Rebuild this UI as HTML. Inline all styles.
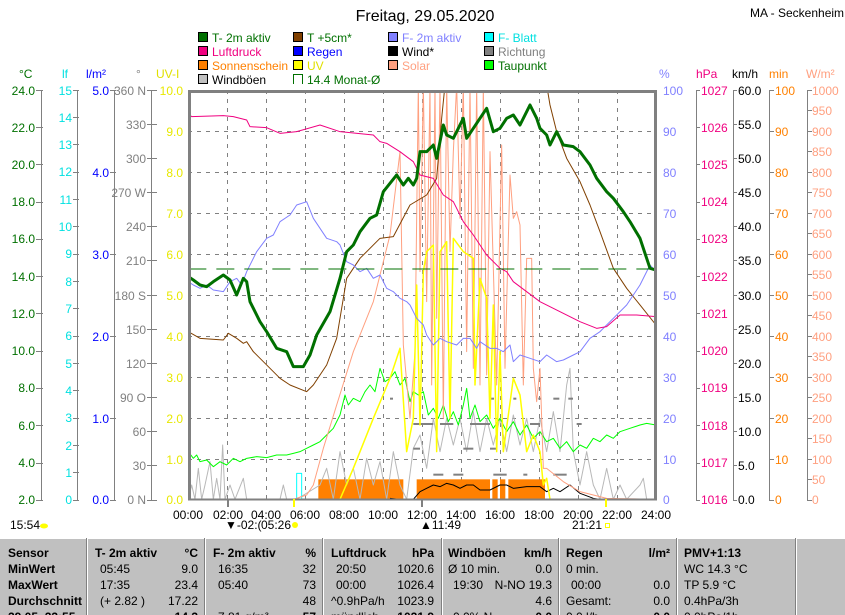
<!DOCTYPE html>
<html><head><meta charset="utf-8"><style>
html,body{margin:0;padding:0;background:#fff}
svg{display:block;font-family:"Liberation Sans",sans-serif;font-size:12px}
</style></head><body>
<svg width="845" height="615" viewBox="0 0 845 615" xmlns="http://www.w3.org/2000/svg">
<rect width="845" height="615" fill="#fff"/>
<text x="425" y="21" font-size="16" text-anchor="middle">Freitag, 29.05.2020</text>
<text x="750" y="17" font-size="12">MA - Seckenheim</text>
<!-- legend -->
<g font-size="12">
<rect x="198.5" y="32.5" width="9" height="9" fill="#007000" stroke="#000"/><text x="212" y="42" fill="#007000">T- 2m aktiv</text>
<rect x="293.5" y="32.5" width="9" height="9" fill="#804000" stroke="#000"/><text x="307" y="42" fill="#007000">T +5cm*</text>
<rect x="388.5" y="32.5" width="9" height="9" fill="#8080ff" stroke="#000"/><text x="402" y="42" fill="#8080ff">F- 2m aktiv</text>
<rect x="484.5" y="32.5" width="9" height="9" fill="#00ffff" stroke="#000"/><text x="498" y="42" fill="#00e0e0">F- Blatt</text>
<rect x="198.5" y="46.5" width="9" height="9" fill="#f00080" stroke="#000"/><text x="212" y="56" fill="#f00080">Luftdruck</text>
<rect x="293.5" y="46.5" width="9" height="9" fill="#0000ff" stroke="#000"/><text x="307" y="56" fill="#0000ff">Regen</text>
<rect x="388.5" y="46.5" width="9" height="9" fill="#000" stroke="#000"/><text x="402" y="56" fill="#000">Wind*</text>
<rect x="484.5" y="46.5" width="9" height="9" fill="#808080" stroke="#000"/><text x="498" y="56" fill="#808080">Richtung</text>
<rect x="198.5" y="60.5" width="9" height="9" fill="#ff8000" stroke="#000"/><text x="212" y="70" fill="#ff8000">Sonnenschein</text>
<rect x="293.5" y="60.5" width="9" height="9" fill="#ffff00" stroke="#000"/><text x="307" y="70" fill="#e0e000">UV</text>
<rect x="388.5" y="60.5" width="9" height="9" fill="#ffa080" stroke="#000"/><text x="402" y="70" fill="#ffa080">Solar</text>
<rect x="484.5" y="60.5" width="9" height="9" fill="#00ff00" stroke="#000"/><text x="498" y="70" fill="#007000">Taupunkt</text>
<rect x="198.5" y="74.5" width="9" height="9" fill="#c0c0c0" stroke="#000"/><text x="212" y="84" fill="#000">Windböen</text>
<path d="M293.5 84 V74.5 H302.5 V84" fill="none" stroke="#007000"/><text x="307" y="84" fill="#007000">14.4 Monat-Ø</text>
</g>
<!-- units -->
<g font-size="12">
<text x="19" y="78" fill="#007000">°C</text>
<text x="62" y="78" fill="#00e0e0">lf</text>
<text x="86" y="78" fill="#0000ff">l/m²</text>
<text x="136" y="78" fill="#808080">°</text>
<text x="156" y="78" fill="#e0e000">UV-I</text>
<text x="659" y="78" fill="#8080ff">%</text>
<text x="696" y="78" fill="#f00080">hPa</text>
<text x="732" y="78" fill="#000">km/h</text>
<text x="769" y="78" fill="#ff8000">min</text>
<text x="806" y="78" fill="#ffa080">W/m²</text>
</g>
<!-- axis lines -->
<g stroke="#808080" stroke-width="1">
<line x1="41.5" y1="90" x2="41.5" y2="500"/>
<line x1="77.5" y1="90" x2="77.5" y2="500"/>
<line x1="114.5" y1="90" x2="114.5" y2="500"/>
<line x1="151.5" y1="90" x2="151.5" y2="500"/>
<line x1="696.5" y1="90" x2="696.5" y2="500"/>
<line x1="733.5" y1="90" x2="733.5" y2="500"/>
<line x1="769.5" y1="90" x2="769.5" y2="500"/>
<line x1="807.5" y1="90" x2="807.5" y2="500"/>
</g>
<!-- left labels -->
<g fill="#007000" text-anchor="end">
<text x="35" y="95">24.0</text><text x="35" y="132">22.0</text><text x="35" y="169">20.0</text><text x="35" y="206">18.0</text><text x="35" y="243">16.0</text><text x="35" y="281">14.0</text><text x="35" y="318">12.0</text><text x="35" y="355">10.0</text><text x="35" y="392">8.0</text><text x="35" y="430">6.0</text><text x="35" y="467">4.0</text><text x="35" y="504">2.0</text>
</g>
<path stroke="#808080" d="M36 90.5h7M36 127.5h7M36 164.5h7M36 202.5h7M36 239.5h7M36 276.5h7M36 313.5h7M36 351.5h7M36 388.5h7M36 425.5h7M36 463.5h7M36 500.5h7"/>
<g fill="#00e0e0" text-anchor="end">
<text x="72" y="95">15</text><text x="72" y="122">14</text><text x="72" y="149">13</text><text x="72" y="176">12</text><text x="72" y="204">11</text><text x="72" y="231">10</text><text x="72" y="258">9</text><text x="72" y="286">8</text><text x="72" y="313">7</text><text x="72" y="340">6</text><text x="72" y="368">5</text><text x="72" y="395">4</text><text x="72" y="422">3</text><text x="72" y="450">2</text><text x="72" y="477">1</text><text x="72" y="504">0</text>
</g>
<path stroke="#808080" d="M73 90.5h6M73 117.5h6M73 144.5h6M73 172.5h6M73 199.5h6M73 226.5h6M73 254.5h6M73 281.5h6M73 308.5h6M73 336.5h6M73 363.5h6M73 390.5h6M73 418.5h6M73 445.5h6M73 472.5h6M73 500.5h6"/>
<g fill="#0000ff" text-anchor="end">
<text x="109" y="95">5.0</text><text x="109" y="177">4.0</text><text x="109" y="259">3.0</text><text x="109" y="341">2.0</text><text x="109" y="423">1.0</text><text x="109" y="504">0.0</text>
</g>
<path stroke="#808080" d="M110 90.5h6M110 172.5h6M110 254.5h6M110 336.5h6M110 418.5h6M110 500.5h6"/>
<g fill="#808080" text-anchor="end">
<text x="146" y="95">360 N</text><text x="146" y="129">330</text><text x="146" y="163">300</text><text x="146" y="197">270 W</text><text x="146" y="231">240</text><text x="146" y="265">210</text><text x="146" y="300">180 S</text><text x="146" y="334">150</text><text x="146" y="368">120</text><text x="146" y="402">90 O</text><text x="146" y="436">60</text><text x="146" y="470">30</text><text x="146" y="504">0 N</text>
</g>
<path stroke="#808080" d="M147 90.5h10M147 124.5h10M147 158.5h10M147 192.5h10M147 226.5h10M147 260.5h10M147 295.5h10M147 329.5h10M147 363.5h10M147 397.5h10M147 431.5h10M147 465.5h10M147 500.5h10"/>
<g fill="#e8e800" text-anchor="end">
<text x="183" y="95">10.0</text><text x="183" y="136">9.0</text><text x="183" y="177">8.0</text><text x="183" y="218">7.0</text><text x="183" y="259">6.0</text><text x="183" y="300">5.0</text><text x="183" y="341">4.0</text><text x="183" y="382">3.0</text><text x="183" y="423">2.0</text><text x="183" y="464">1.0</text><text x="183" y="504">0.0</text>
</g>
<!-- right labels -->
<g fill="#8080ff">
<text x="663" y="95">100</text><text x="663" y="136">90</text><text x="663" y="177">80</text><text x="663" y="218">70</text><text x="663" y="259">60</text><text x="663" y="300">50</text><text x="663" y="341">40</text><text x="663" y="382">30</text><text x="663" y="423">20</text><text x="663" y="464">10</text><text x="663" y="504">0</text>
</g>
<g fill="#f00080">
<text x="701" y="95">1027</text><text x="701" y="132">1026</text><text x="701" y="169">1025</text><text x="701" y="206">1024</text><text x="701" y="243">1023</text><text x="701" y="281">1022</text><text x="701" y="318">1021</text><text x="701" y="355">1020</text><text x="701" y="392">1019</text><text x="701" y="430">1018</text><text x="701" y="467">1017</text><text x="701" y="504">1016</text>
</g>
<path stroke="#808080" d="M696 90.5h4M696 127.5h4M696 164.5h4M696 202.5h4M696 239.5h4M696 276.5h4M696 313.5h4M696 351.5h4M696 388.5h4M696 425.5h4M696 463.5h4M696 500.5h4"/>
<g fill="#000">
<text x="738" y="95">60.0</text><text x="738" y="129">55.0</text><text x="738" y="163">50.0</text><text x="738" y="197">45.0</text><text x="738" y="231">40.0</text><text x="738" y="265">35.0</text><text x="738" y="300">30.0</text><text x="738" y="334">25.0</text><text x="738" y="368">20.0</text><text x="738" y="402">15.0</text><text x="738" y="436">10.0</text><text x="738" y="470">5.0</text><text x="738" y="504">0.0</text>
</g>
<path stroke="#808080" d="M733 90.5h4M733 124.5h4M733 158.5h4M733 192.5h4M733 226.5h4M733 260.5h4M733 295.5h4M733 329.5h4M733 363.5h4M733 397.5h4M733 431.5h4M733 465.5h4M733 500.5h4"/>
<g fill="#ff8000">
<text x="775" y="95">100</text><text x="775" y="136">90</text><text x="775" y="177">80</text><text x="775" y="218">70</text><text x="775" y="259">60</text><text x="775" y="300">50</text><text x="775" y="341">40</text><text x="775" y="382">30</text><text x="775" y="423">20</text><text x="775" y="464">10</text><text x="775" y="504">0</text>
</g>
<path stroke="#808080" d="M769 90.5h5M769 131.5h5M769 172.5h5M769 213.5h5M769 254.5h5M769 295.5h5M769 336.5h5M769 377.5h5M769 418.5h5M769 459.5h5M769 500.5h5"/>
<g fill="#ffa080">
<text x="812" y="95">1000</text><text x="812" y="115">950</text><text x="812" y="136">900</text><text x="812" y="156">850</text><text x="812" y="177">800</text><text x="812" y="197">750</text><text x="812" y="218">700</text><text x="812" y="238">650</text><text x="812" y="259">600</text><text x="812" y="279">550</text><text x="812" y="300">500</text><text x="812" y="320">450</text><text x="812" y="341">400</text><text x="812" y="361">350</text><text x="812" y="382">300</text><text x="812" y="402">250</text><text x="812" y="423">200</text><text x="812" y="443">150</text><text x="812" y="464">100</text><text x="812" y="484">50</text><text x="812" y="504">0</text>
</g>
<path stroke="#808080" d="M807 90.5h5M807 110.5h5M807 131.5h5M807 151.5h5M807 172.5h5M807 192.5h5M807 213.5h5M807 233.5h5M807 254.5h5M807 274.5h5M807 295.5h5M807 315.5h5M807 336.5h5M807 356.5h5M807 377.5h5M807 397.5h5M807 418.5h5M807 438.5h5M807 459.5h5M807 479.5h5M807 500.5h5"/>
<!-- grid -->
<g stroke="#808080" stroke-dasharray="4,5" stroke-width="1">
<path d="M227.5 90V499M266.5 90V499M305.5 90V499M344.5 90V499M383.5 90V499M422.5 90V499M461.5 90V499M500.5 90V499M539.5 90V499M578.5 90V499M617.5 90V499"/>
<path d="M188 131.5H656M188 172.5H656M188 213.5H656M188 254.5H656M188 295.5H656M188 336.5H656M188 377.5H656M188 418.5H656M188 459.5H656"/>
</g>
<defs><clipPath id="c"><rect x="189" y="91" width="467" height="408"/></clipPath></defs>
<g clip-path="url(#c)">
<g transform="translate(180,85) scale(0.33333)" fill="none" stroke-linejoin="round">
<!-- sunshine -->
<g fill="#ff8000" stroke="none">
<rect x="415" y="1183" width="255" height="60"/>
<rect x="710" y="1183" width="220" height="60"/>
<rect x="937" y="1183" width="16" height="60"/>
<rect x="960" y="1183" width="16" height="60"/>
<rect x="985" y="1183" width="110" height="60"/>
</g>
<!-- gusts -->
<polyline vector-effect="non-scaling-stroke" stroke="#b8b8b8" stroke-width="1" points="25,1243 35,1200 45,1243 55,1150 65,1243 75,1200 90,1130 100,1243 110,1180 120,1243 128,1080 135,1243 150,1200 165,1243 190,1180 200,1243 230,1243 300,1243 310,1200 320,1243 350,1243 420,1200 440,1150 460,1243 480,1100 500,1200 520,1150 540,1243 560,1120 580,1200 600,1130 620,1243 640,1100 660,1200 680,1243 700,1090 720,1050 740,1150 760,1000 780,1100 800,1000 820,1080 840,1000 860,1100 880,980 900,1100 920,1000 940,1080 960,1000 980,1100 1000,990 1020,1080 1040,1000 1060,1100 1080,1000 1100,1100 1120,980 1140,1100 1160,900 1170,850 1180,1100 1200,1200 1220,1100 1240,1200 1260,1243 1280,1150 1300,1243 1320,1200 1340,1243 1380,1200 1390,1180 1400,1243 1428,1243"/>
<!-- direction dots -->
<g fill="#808080" stroke="none">
<rect x="630" y="938" width="9" height="6"/><rect x="930" y="938" width="12" height="6"/><rect x="1000" y="938" width="9" height="6"/><rect x="1075" y="938" width="9" height="6"/><rect x="1120" y="938" width="18" height="6"/><rect x="1165" y="938" width="14" height="6"/>
<rect x="700" y="1014" width="60" height="6"/><rect x="780" y="1014" width="40" height="6"/><rect x="870" y="1014" width="60" height="6"/><rect x="1050" y="1014" width="30" height="6"/><rect x="1190" y="1014" width="15" height="6"/>
<rect x="700" y="1088" width="20" height="6"/><rect x="850" y="1088" width="30" height="6"/><rect x="930" y="1088" width="20" height="6"/>
<rect x="760" y="1166" width="30" height="6"/><rect x="820" y="1166" width="30" height="6"/><rect x="940" y="1166" width="40" height="6"/><rect x="1030" y="1166" width="12" height="6"/><rect x="1120" y="1166" width="40" height="6"/>
</g>
<!-- wind -->
<polyline vector-effect="non-scaling-stroke" stroke="#000" stroke-width="1" points="630,1240 660,1243 700,1243 720,1220 740,1210 760,1200 780,1205 800,1195 820,1200 840,1210 860,1200 880,1200 900,1215 930,1215 960,1200 980,1200 1000,1210 1040,1205 1080,1205 1100,1220 1120,1210 1140,1220 1170,1200 1200,1225 1240,1240 1260,1243"/>
<!-- leaf -->
<polyline vector-effect="non-scaling-stroke" stroke="#00ffff" stroke-width="1" points="350,1243 350,1165 365,1165 365,1243"/>
<!-- dewpoint -->
<polyline vector-effect="non-scaling-stroke" stroke="#00ff00" stroke-width="1" points="25,1100 40,1120 50,1110 60,1130 80,1125 100,1145 120,1130 140,1140 160,1120 180,1130 200,1120 230,1115 260,1118 290,1110 320,1110 340,1105 360,1100 380,1090 400,1080 420,1070 440,1050 460,1030 480,990 495,930 505,960 520,940 540,950 555,920 570,900 585,920 600,850 615,890 630,880 645,860 660,900 675,880 690,950 700,920 715,930 730,920 745,990 760,970 775,1000 790,960 805,1010 820,980 835,1020 850,960 860,910 870,1000 885,960 900,1010 920,990 940,1030 960,1000 980,1040 1000,1010 1020,1050 1040,1020 1060,1060 1080,1040 1100,1070 1120,1060 1140,1090 1160,1070 1180,1100 1200,1080 1220,1090 1240,1060 1260,1070 1280,1050 1300,1060 1320,1040 1350,1030 1380,1020 1400,1015 1428,1020"/>
<!-- solar -->
<polyline vector-effect="non-scaling-stroke" stroke="#ffa080" stroke-width="1" points="25,1243 340,1243 380,1230 400,1200 430,1090 470,960 520,800 580,650 630,450 660,200 670,780 690,1000 705,800 715,0 720,560 730,0 740,650 750,0 755,900 765,0 770,700 780,0 790,1000 800,0 810,500 820,200 830,0 840,400 850,0 860,800 870,0 880,850 890,0 900,900 910,0 920,870 930,200 950,900 965,180 975,850 990,270 1000,400 1010,380 1020,420 1030,900 1040,520 1055,520 1060,850 1070,950 1080,850 1090,1150 1100,1150 1150,1190 1200,1220 1280,1240 1428,1243"/>
<!-- UV -->
<polyline vector-effect="non-scaling-stroke" stroke="#ffff00" stroke-width="1.5" points="340,1243 450,1243 480,1243 520,1150 580,1000 630,880 660,790 680,1100 700,1000 710,600 720,1020 730,560 740,500 760,480 770,1100 780,500 800,470 810,1000 820,460 850,500 880,520 885,900 900,580 920,640 930,1000 940,660 950,1100 960,800 970,1100 1000,880 1020,930 1040,1100 1060,1050 1080,1100 1090,1200 1100,1180 1110,1243 1130,1243"/>
<!-- T+5cm -->
<polyline vector-effect="non-scaling-stroke" stroke="#804000" stroke-width="1" points="25,740 60,760 130,765 145,745 170,760 190,775 200,770 220,800 240,820 270,850 300,880 330,900 380,920 400,900 440,840 470,760 490,640 500,580 540,520 600,460 640,455 690,360 740,330 770,280 785,100 795,0"/>
<polyline vector-effect="non-scaling-stroke" stroke="#804000" stroke-width="1" points="1100,0 1110,60 1130,140 1160,220 1200,290 1230,360 1260,440 1300,550 1340,610 1380,660 1428,720"/>
<!-- humidity -->
<polyline vector-effect="non-scaling-stroke" stroke="#8080ff" stroke-width="1" points="25,590 40,600 60,610 80,600 100,615 130,620 150,590 170,580 185,600 200,560 230,500 260,460 280,450 300,410 330,390 350,360 380,350 400,400 420,430 440,460 470,470 480,480 500,530 520,540 540,560 560,550 580,580 600,570 620,610 640,620 660,640 680,650 690,660 710,700 730,720 740,750 760,780 780,760 800,770 830,780 850,760 870,760 890,790 900,770 930,790 950,790 970,800 990,780 1000,830 1020,810 1050,820 1080,830 1100,810 1130,830 1150,825 1180,810 1200,800 1230,760 1260,740 1300,700 1340,660 1380,600 1410,540 1428,560"/>
<!-- pressure -->
<polyline vector-effect="non-scaling-stroke" stroke="#f00080" stroke-width="1" points="25,85 35,95 130,92 160,95 200,105 210,125 260,128 300,145 350,140 420,120 480,140 580,150 600,170 620,175 660,200 700,230 720,270 760,280 790,330 820,350 850,410 880,450 920,510 960,550 980,560 1000,590 1040,620 1080,650 1110,665 1140,680 1200,710 1250,730 1280,725 1320,690 1370,690 1428,695"/>
<!-- monthly mean -->
<line vector-effect="non-scaling-stroke" x1="25" y1="552" x2="1428" y2="552" stroke="#007000" stroke-width="1" stroke-dasharray="18,10"/>
<!-- temperature -->
<polyline vector-effect="non-scaling-stroke" stroke="#007000" stroke-width="3" points="25,575 40,585 60,600 80,605 100,590 130,570 150,585 170,630 190,580 200,590 210,650 240,710 260,740 290,790 320,800 340,845 370,845 390,810 410,750 450,680 480,580 500,500 520,480 540,440 570,400 590,390 610,320 650,270 670,300 685,280 700,300 710,280 720,200 740,200 760,180 770,220 790,120 800,150 820,160 835,130 850,100 860,160 880,130 900,100 920,70 940,140 960,130 980,100 1000,90 1020,120 1040,80 1050,60 1070,100 1080,130 1100,150 1110,180 1130,140 1150,180 1180,185 1200,200 1230,240 1250,280 1280,320 1300,340 1330,380 1350,410 1380,460 1400,520 1410,550 1428,555"/>
</g>
</g>
<!-- plot border -->
<path d="M189.5 499V91.5H655.5V499" fill="none" stroke="#808080" stroke-width="3"/>
<line x1="188" y1="499.5" x2="657" y2="499.5" stroke="#808080" stroke-width="2"/>
<path stroke="#808080" stroke-width="2" d="M228 499v8M422 499v8"/>
<path stroke="#ffff00" stroke-width="2" d="M294 499v8M606 499v8"/>
<!-- time labels -->
<g text-anchor="middle" fill="#000">
<text x="188" y="519">00:00</text><text x="228" y="519">02:00</text><text x="266" y="519">04:00</text><text x="305" y="519">06:00</text><text x="344" y="519">08:00</text><text x="383" y="519">10:00</text><text x="422" y="519">12:00</text><text x="461" y="519">14:00</text><text x="500" y="519">16:00</text><text x="539" y="519">18:00</text><text x="578" y="519">20:00</text><text x="617" y="519">22:00</text><text x="656" y="519">24:00</text>
</g>
<text x="10" y="529">15:54</text><ellipse cx="44" cy="526" rx="4" ry="2.5" fill="#ffff00"/>
<text x="225" y="529" fill="#000">▼-02:(</text><text x="261" y="529">05:26</text><circle cx="295" cy="525" r="3" fill="#ffff00"/>
<text x="420" y="529">▲11:49</text>
<text x="572" y="529">21:21</text><rect x="605.5" y="523.5" width="4" height="4" fill="none" stroke="#ffff00"/>
<!-- table -->
<rect x="0" y="538" width="845" height="77" fill="#c0c0c0"/>
<line x1="0" y1="538.5" x2="845" y2="538.5" stroke="#fff"/>
<path stroke="#808080" d="M86.5 538V615M204.5 538V615M322.5 538V615M441.5 538V615M558.5 538V615M676.5 538V615M795.5 538V615"/>
<path stroke="#fff" d="M87.5 538V615M205.5 538V615M323.5 538V615M442.5 538V615M559.5 538V615M677.5 538V615M796.5 538V615"/>
<g font-size="12" fill="#000">
<g font-weight="bold">
<text x="8" y="557">Sensor</text><text x="8" y="573">MinWert</text><text x="8" y="589">MaxWert</text><text x="8" y="605">Durchschnitt</text><text x="8" y="621">29.05. 23:55</text>
<text x="95" y="557">T- 2m aktiv</text><text x="198" y="557" text-anchor="end">°C</text>
<text x="213" y="557">F- 2m aktiv</text><text x="316" y="557" text-anchor="end">%</text>
<text x="331" y="557">Luftdruck</text><text x="434" y="557" text-anchor="end">hPa</text>
<text x="448" y="557">Windböen</text><text x="552" y="557" text-anchor="end">km/h</text>
<text x="566" y="557">Regen</text><text x="670" y="557" text-anchor="end">l/m²</text>
<text x="684" y="557">PMV+1:13</text>
<text x="198" y="621" text-anchor="end">14.3</text><text x="316" y="621" text-anchor="end">57</text><text x="434" y="621" text-anchor="end">1021.9</text><text x="552" y="621" text-anchor="end">0.0</text><text x="670" y="621" text-anchor="end">0.0</text>
</g>
<text x="100" y="573">05:45</text><text x="198" y="573" text-anchor="end">9.0</text>
<text x="100" y="589">17:35</text><text x="198" y="589" text-anchor="end">23.4</text>
<text x="100" y="605">(+ 2.82 )</text><text x="198" y="605" text-anchor="end">17.22</text>
<text x="218" y="573">16:35</text><text x="316" y="573" text-anchor="end">32</text>
<text x="218" y="589">05:40</text><text x="316" y="589" text-anchor="end">73</text>
<text x="316" y="605" text-anchor="end">48</text><text x="218" y="621">7.81 g/m³</text>
<text x="336" y="573">20:50</text><text x="434" y="573" text-anchor="end">1020.6</text>
<text x="336" y="589">00:00</text><text x="434" y="589" text-anchor="end">1026.4</text>
<text x="331" y="605">^0.9hPa/h</text><text x="434" y="605" text-anchor="end">1023.9</text><text x="331" y="621">mündlich</text>
<text x="448" y="573">Ø 10 min.</text><text x="552" y="573" text-anchor="end">0.0</text>
<text x="453" y="589">19:30</text><text x="552" y="589" text-anchor="end">N-NO 19.3</text>
<text x="552" y="605" text-anchor="end">4.6</text><text x="453" y="621">0.0% N</text>
<text x="566" y="573">0 min.</text>
<text x="571" y="589">00:00</text><text x="670" y="589" text-anchor="end">0.0</text>
<text x="566" y="605">Gesamt:</text><text x="670" y="605" text-anchor="end">0.0</text><text x="566" y="621">0.0 l/h</text>
<text x="684" y="573">WC 14.3 °C</text><text x="684" y="589">TP 5.9 °C</text><text x="684" y="605">0.4hPa/3h</text><text x="684" y="621">0.0hPa/1h</text>
</g>
</svg>
</body></html>
